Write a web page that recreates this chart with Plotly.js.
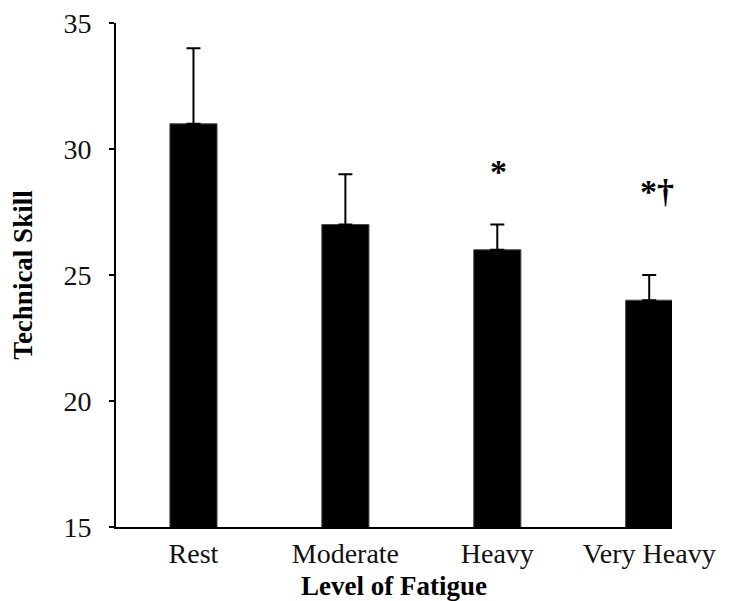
<!DOCTYPE html>
<html>
<head>
<meta charset="utf-8">
<script src="https://cdn.plot.ly/plotly-3.0.1.min.js"></script>
<style>html,body{margin:0;padding:0;background:#fff;}</style>
</head>
<body>
<div id="chart" style="width:729px;height:601px;"></div>
<script>
var categories = ['Rest', 'Moderate', 'Heavy', 'Very Heavy'];
var means = [31, 27, 26, 24];
var errorsUp = [3, 2, 1, 1];
var sigLabels = ['', '', '*', '*†'];
var sigY = [0, 0, 29.1, 28.3];
var sigXShift = [0, 0, 0.01, 0.05];
var yTicks = [15, 20, 25, 30, 35];

var serif = '"Liberation Serif", "Times New Roman", Times, serif';

var trace = {
  type: 'bar',
  x: [0, 1, 2, 3],
  y: means,
  width: 0.31,
  marker: {color: '#000000', line: {color: '#444', width: 1}},
  error_y: {
    type: 'data',
    symmetric: false,
    array: errorsUp,
    arrayminus: means.map(function(){return 0;}),
    color: '#000000',
    thickness: 2,
    width: 7
  },
  hoverinfo: 'none'
};

var annotations = [];
for (var i = 0; i < categories.length; i++) {
  if (sigLabels[i]) {
    annotations.push({
      x: i + sigXShift[i], y: sigY[i], xref: 'x', yref: 'y',
      text: '<b>' + sigLabels[i] + '</b>', showarrow: false,
      font: {family: serif, size: 34, color: '#000'},
      xanchor: 'center', yanchor: 'middle'
    });
  }
}

var layout = {
  width: 729, height: 601,
  margin: {l: 116, r: 57, t: 23, b: 74},
  paper_bgcolor: '#fff', plot_bgcolor: '#fff',
  showlegend: false,
  xaxis: {
    range: [-0.51, 3.15],
    tickmode: 'array', tickvals: [0, 1, 2, 3], ticktext: categories,
    showline: true, linecolor: '#000', linewidth: 2,
    ticks: '', showgrid: false, zeroline: false,
    tickfont: {family: serif, size: 28, color: '#111'},
    title: {text: '<b>Level of Fatigue</b>', font: {family: serif, size: 27, color: '#000'}, standoff: 11},
    automargin: false, fixedrange: true
  },
  yaxis: {
    range: [15, 35],
    tickmode: 'array', tickvals: yTicks, ticktext: yTicks.map(String),
    showline: true, linecolor: '#000', linewidth: 2,
    ticks: 'outside', ticklen: 5, tickwidth: 2, tickcolor: '#000',
    ticklabelstandoff: 12,
    showgrid: false, zeroline: false,
    tickfont: {family: serif, size: 28, color: '#111'},
    title: {text: '<b>Technical Skill</b>', font: {family: serif, size: 27, color: '#000'}, standoff: 23},
    automargin: false, fixedrange: true
  },
  annotations: annotations
};

Plotly.newPlot('chart', [trace], layout, {displayModeBar: false, staticPlot: true});
</script>
</body>
</html>
